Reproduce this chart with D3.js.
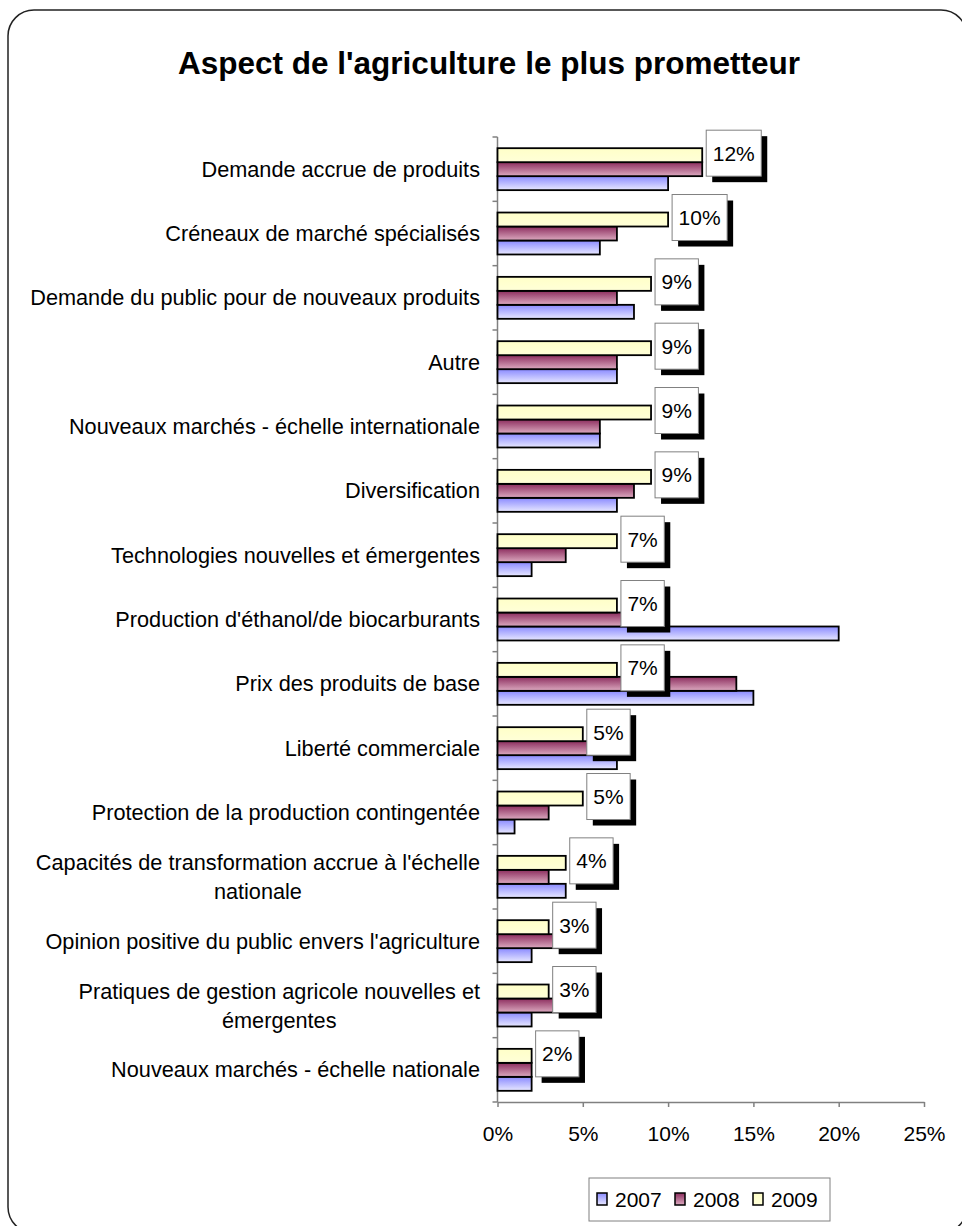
<!DOCTYPE html>
<html>
<head>
<meta charset="utf-8">
<script src="https://cdnjs.cloudflare.com/ajax/libs/d3/7.8.5/d3.min.js"></script>
<style>
  body { margin: 0; background: #fff; }
  svg { display: block; font-family: Arial, "Liberation Sans", sans-serif; }
</style>
</head>
<body>
<div id="chart"></div>
<script>
const title = "Aspect de l'agriculture le plus prometteur";
const categories = [
  "Demande accrue de produits",
  "Créneaux de marché spécialisés",
  "Demande du public pour de nouveaux produits",
  "Autre",
  "Nouveaux marchés - échelle internationale",
  "Diversification",
  "Technologies nouvelles et émergentes",
  "Production d'éthanol/de biocarburants",
  "Prix des produits de base",
  "Liberté commerciale",
  "Protection de la production contingentée",
  "Capacités de transformation accrue à l'échelle\nnationale",
  "Opinion positive du public envers l'agriculture",
  "Pratiques de gestion agricole nouvelles et\némergentes",
  "Nouveaux marchés - échelle nationale"
];
const years = ["2007", "2008", "2009"];
const v2007 = [10, 6, 8, 7, 6, 7, 2, 20, 15, 7, 1, 4, 2, 2, 2];
const v2008 = [12, 7, 7, 7, 6, 8, 4, 8, 14, 6, 3, 3, 4, 4, 2];
const v2009 = [12, 10, 9, 9, 9, 9, 7, 7, 7, 5, 5, 4, 3, 3, 2];
const xTicks = [0, 5, 10, 15, 20, 25];

const W = 962, H = 1226;
const plot = { left: 497.5, right: 924, top: 137, bottom: 1102 };
const fontSize = 21;
const catFontSize = 21.7;

const svg = d3.select('#chart')
  .append('svg')
  .attr('width', W)
  .attr('height', H);

// gradients for the bars
const defs = svg.append('defs');
const grads = {
  '2007': ['#8a8aff', '#e8e8ff'],
  '2008': ['#8c2d5e', '#dcaac0'],
  '2009': ['#ffffc8', '#ffffd8']
};
years.forEach(yr => {
  const g = defs.append('linearGradient')
    .attr('id', 'g' + yr)
    .attr('x1', 0).attr('y1', 0).attr('x2', 0).attr('y2', 1);
  g.append('stop').attr('offset', '0%').attr('stop-color', grads[yr][0]);
  g.append('stop').attr('offset', '100%').attr('stop-color', grads[yr][1]);
});

// outer frame
svg.append('rect')
  .attr('x', 8).attr('y', 10)
  .attr('width', 959).attr('height', 1223)
  .attr('rx', 26).attr('ry', 26)
  .attr('fill', '#fff')
  .attr('stroke', '#222')
  .attr('stroke-width', 1.5);

svg.append('text')
  .attr('x', 489)
  .attr('y', 74)
  .attr('text-anchor', 'middle')
  .style('font-size', '31.5px')
  .style('font-weight', 'bold')
  .text(title);

let x = d3.scaleLinear()
  .domain([0, 25])
  .range([plot.left, plot.right]);

let y = d3.scaleBand()
  .domain(categories)
  .range([plot.top, plot.bottom]);

let yInner = d3.scaleBand()
  .domain(["2009", "2008", "2007"])
  .range([0, y.bandwidth()])
  .paddingOuter(0.8);

const rows = categories.map((c, i) => ({
  cat: c,
  vals: { '2007': v2007[i], '2008': v2008[i], '2009': v2009[i] }
}));

// x axis
const xAxis = svg.append('g')
  .attr('transform', 'translate(0,' + plot.bottom + ')')
  .call(d3.axisBottom(x).tickValues(xTicks).tickFormat(d => d + '%')
    .tickSize(5).tickSizeOuter(0).tickPadding(19));
xAxis.select('.domain').attr('stroke', '#808080').attr('stroke-width', 1.5);
xAxis.selectAll('.tick line').attr('stroke', '#808080').attr('stroke-width', 1.5);
xAxis.selectAll('.tick text')
  .attr('fill', '#000')
  .style('font-size', fontSize + 'px')
  .style('font-family', 'Arial, "Liberation Sans", sans-serif');

// y axis line and ticks at band edges
svg.append('line')
  .attr('x1', plot.left).attr('x2', plot.left)
  .attr('y1', plot.top).attr('y2', plot.bottom)
  .attr('stroke', '#808080').attr('stroke-width', 1.5);

svg.selectAll('.ytick')
  .data(categories.map(c => y(c)).concat([plot.bottom]))
  .enter()
  .append('line')
  .attr('class', 'ytick')
  .attr('x1', plot.left - 5).attr('x2', plot.left)
  .attr('y1', d => d).attr('y2', d => d)
  .attr('stroke', '#808080').attr('stroke-width', 1.5);

// category labels (multi-line ones are centred as a block)
const lineGap = 29;
rows.forEach(r => {
  const lines = r.cat.split('\n');
  const cy = y(r.cat) + y.bandwidth() / 2;
  const g = svg.append('g');
  const texts = lines.map((ln, k) => g.append('text')
    .attr('y', cy + (k - (lines.length - 1) / 2) * lineGap)
    .attr('dy', '0.35em')
    .style('font-size', catFontSize + 'px')
    .text(ln));
  const maxW = d3.max(texts, t => t.node().getComputedTextLength());
  texts.forEach(t => t
    .attr('x', 480 - maxW / 2)
    .attr('text-anchor', 'middle'));
});

// bars
rows.forEach(r => {
  svg.selectAll(null)
    .data(years.map(yr => ({ yr, v: r.vals[yr] })))
    .enter()
    .append('rect')
    .attr('x', x(0))
    .attr('y', d => y(r.cat) + yInner(d.yr))
    .attr('width', d => x(d.v) - x(0))
    .attr('height', yInner.bandwidth())
    .attr('fill', d => 'url(#g' + d.yr + ')')
    .attr('stroke', '#000')
    .attr('stroke-width', 1.8);
});

// value labels for 2009 (boxed with a drop shadow)
rows.forEach(r => {
  const v = r.vals['2009'];
  const cy = y(r.cat) + yInner('2009') + yInner.bandwidth() / 2 - 2;
  const g = svg.append('g');
  const shadow = g.append('rect').attr('fill', '#000');
  const box = g.append('rect').attr('fill', '#fff').attr('stroke', '#808080').attr('stroke-width', 1);
  const t = g.append('text')
    .attr('y', cy)
    .attr('dy', '0.35em')
    .attr('text-anchor', 'middle')
    .style('font-size', fontSize + 'px')
    .text(v + '%');
  const tw = t.node().getComputedTextLength();
  const bw = tw + 13, bh = 46;
  const bx = x(v) + 4;
  t.attr('x', bx + bw / 2);
  box.attr('x', bx).attr('y', cy - bh / 2).attr('width', bw).attr('height', bh);
  shadow.attr('x', bx + 6).attr('y', cy - bh / 2 + 6).attr('width', bw).attr('height', bh);
});

// legend
const legend = svg.append('g').attr('transform', 'translate(589,1178)');
legend.append('rect')
  .attr('width', 241).attr('height', 43)
  .attr('fill', '#fff')
  .attr('stroke', '#808080').attr('stroke-width', 1);
const items = legend.selectAll('.item')
  .data(years)
  .enter()
  .append('g')
  .attr('class', 'item')
  .attr('transform', (d, i) => 'translate(' + (8 + i * 78) + ',0)');
items.append('rect')
  .attr('y', 15).attr('width', 10).attr('height', 12)
  .attr('fill', d => 'url(#g' + d + ')')
  .attr('stroke', '#000').attr('stroke-width', 1.5);
items.append('text')
  .attr('x', 18).attr('y', 21.5)
  .attr('dy', '0.35em')
  .style('font-size', fontSize + 'px')
  .text(d => d);
</script>
</body>
</html>
